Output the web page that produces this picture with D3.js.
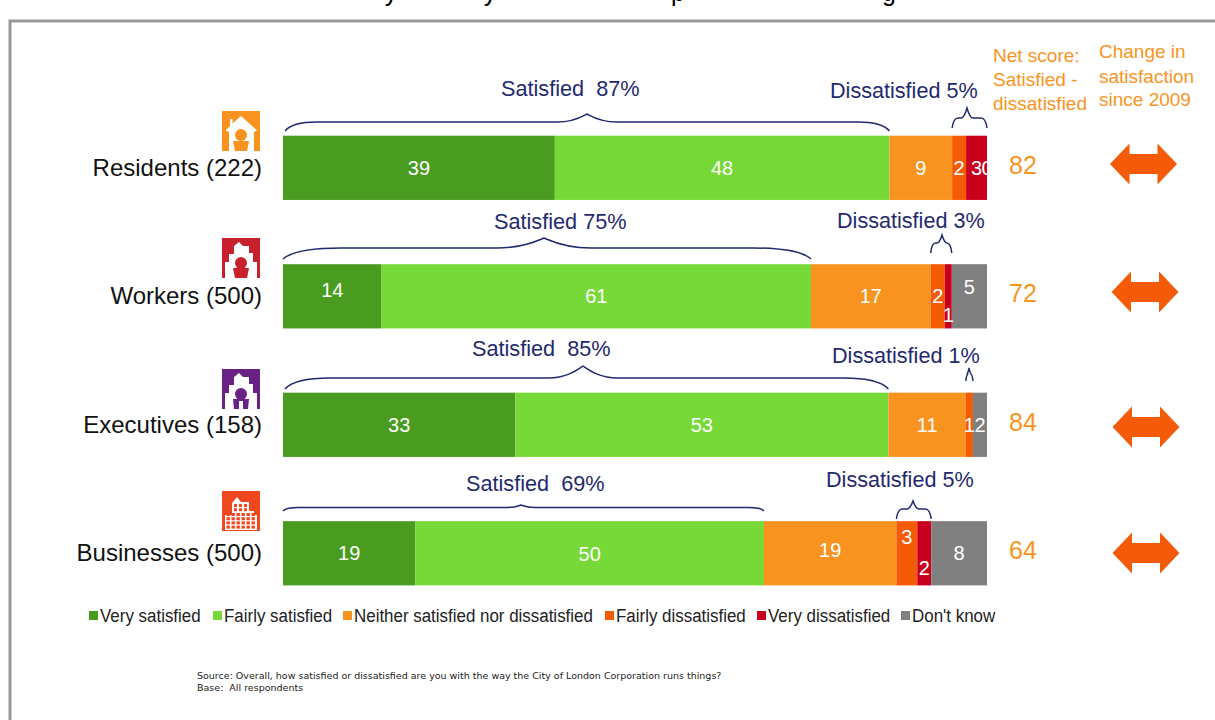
<!DOCTYPE html>
<html><head><meta charset="utf-8">
<script src="https://cdn.jsdelivr.net/npm/d3@7"></script>
<style>
html,body{margin:0;padding:0;background:#fff;overflow:hidden}
svg{display:block;font-family:"Liberation Sans",Arial,sans-serif}
text{white-space:pre}
</style></head><body>
<svg id="c" width="1215" height="720"></svg>
<script>
// ---- data ----
const categories = ["Residents (222)","Workers (500)","Executives (158)","Businesses (500)"];
const seriesNames = ["Very satisfied","Fairly satisfied","Neither satisfied nor dissatisfied","Fairly dissatisfied","Very dissatisfied","Don't know"];
const verySatisfied = [39,14,33,19];
const fairlySatisfied = [48,61,53,50];
const neither = [9,17,11,19];
const fairlyDissatisfied = [2,2,1,3];
const veryDissatisfied = [3,1,0,2];
const dontKnow = [0,5,2,8];
const netScores = [82,72,84,64];
const satisfiedLabels = ["Satisfied  87%","Satisfied 75%","Satisfied  85%","Satisfied  69%"];
const dissatisfiedLabels = ["Dissatisfied 5%","Dissatisfied 3%","Dissatisfied 1%","Dissatisfied 5%"];
const seriesValues = [verySatisfied,fairlySatisfied,neither,fairlyDissatisfied,veryDissatisfied,dontKnow];
const colors = ["#4a9c20","#77d938","#f7931e","#f55a05","#c8001e","#808080"];

// ---- layout ----
const NAVY="#1f2a6e", ORANGE="#f7941d", ARROW="#f55a08";
const svg=d3.select("#c");
const rows=categories.map((c,i)=>{const o={cat:c};seriesNames.forEach((s,j)=>o[s]=seriesValues[j][i]);return o;});
const stacked=d3.stack().keys(seriesNames).offset(d3.stackOffsetExpand)(rows);
const x=d3.scaleLinear().domain([0,1]).range([283,987]);
const y=d3.scaleBand().domain(categories).range([135.7,585.4]).paddingInner(0.5);

// cut-off title tails and frame
[["y",391],["y",490],["p",678],["g",889]].forEach(([t,px])=>svg.append("text").attr("x",px).attr("y",1).attr("text-anchor","middle").attr("font-size",25).attr("fill","#000").text(t));
svg.append("path").attr("d","M10,720V21H1215").attr("fill","none").attr("stroke","#999").attr("stroke-width",3);

// bars
svg.append("g").selectAll("g").data(stacked).join("g").attr("fill",(d,i)=>colors[i])
 .selectAll("rect").data(d=>d).join("rect")
 .attr("x",d=>x(d[0])).attr("width",d=>x(d[1])-x(d[0]))
 .attr("y",d=>y(d.data.cat)).attr("height",y.bandwidth());

// bar value labels; vertical nudges follow the hand-placed labels of the original
const nudge=[[0,0,0,0,0,0],[-6,0,0,0,19,-9],[0,0,0,0,0,0],[0,1,-3,-16,15,0]];
stacked.forEach((ser,j)=>ser.forEach((d,i)=>{
  const v=seriesValues[j][i];
  if(i===2&&j===4) return;
  const px=(i===0&&j===5)?x(1):(x(d[0])+x(d[1]))/2;
  svg.append("text").attr("x",px).attr("y",y(d.data.cat)+y.bandwidth()/2+7+nudge[i][j])
    .attr("text-anchor","middle").attr("font-size",20).attr("fill","#fff").text(v);
}));

// category labels
svg.append("g").selectAll("text").data(categories).join("text")
 .attr("x",262).attr("y",d=>y(d)+y.bandwidth()/2+8).attr("text-anchor","end").attr("font-size",24).attr("fill","#111").text(d=>d);

// net scores
svg.append("g").selectAll("text").data(netScores).join("text")
 .attr("x",1023).attr("y",(d,i)=>y(categories[i])+y.bandwidth()/2+6).attr("text-anchor","middle").attr("font-size",25).attr("fill",ORANGE).text(d=>d);

// column headers
[["Net score:",993,62],["Satisfied -",993,86],["dissatisfied",993,110],["Change in",1099,58],["satisfaction",1099,83],["since 2009",1099,106]]
 .forEach(([t,px,py])=>svg.append("text").attr("x",px).attr("y",py).attr("font-size",19).attr("fill",ORANGE).text(t));

// braces
function brace(x0,x1,b){
  const [yBase,yFlat,yTip,xTip,r,tr]=b, h=yBase-yFlat, ht=yFlat-yTip;
  return `M${x0},${yBase}C${x0+r*.15},${yFlat+h*.3} ${x0+r*.45},${yFlat} ${x0+r},${yFlat}`
    +`L${xTip-tr},${yFlat}C${xTip-tr*.45},${yFlat} ${xTip-tr*.15},${yTip+ht*.3} ${xTip},${yTip}`
    +`C${xTip+tr*.15},${yTip+ht*.3} ${xTip+tr*.45},${yFlat} ${xTip+tr},${yFlat}`
    +`L${x1-r},${yFlat}C${x1-r*.45},${yFlat} ${x1-r*.15},${yFlat+h*.3} ${x1},${yBase}`;
}
function x100(i,v){const tot=d3.sum(seriesValues,s=>s[i]);return x(v/tot);}
const satB=[[131,122,114,587,32,30],[259,248,238,544,58,47],[389,378,366,583,45,35],[511,507.5,505,521,15,14]];
const disB=[[128,118,108,967,6,6],[253,243,235,942,5,5],[381,374,368,969,2.5,2.5],[519,509,501,913,6,6]];
const satT=[[501,96],[494,229],[472,356],[466,491]];
const disT=[[830,98],[837,228],[832,363],[826,487]];
categories.forEach((c,i)=>{
  const sat=verySatisfied[i]+fairlySatisfied[i];
  svg.append("path").attr("d",brace(x100(i,0)+(i%2?0:2),x100(i,sat),satB[i])).attr("fill","none").attr("stroke",NAVY).attr("stroke-width",1.5);
  const s0=sat+neither[i], s1=s0+fairlyDissatisfied[i]+veryDissatisfied[i];
  svg.append("path").attr("d",brace(x100(i,s0),x100(i,s1),disB[i])).attr("fill","none").attr("stroke",NAVY).attr("stroke-width",1.5);
  svg.append("text").attr("x",satT[i][0]).attr("y",satT[i][1]).attr("font-size",21.7).attr("fill",NAVY).text(satisfiedLabels[i]);
  svg.append("text").attr("x",disT[i][0]).attr("y",disT[i][1]).attr("font-size",21.6).attr("fill",NAVY).text(dissatisfiedLabels[i]);
});

// change arrows
[[1143.5,164],[1145,292],[1146,427],[1146,553]].forEach(([cx,cy])=>{
  svg.append("path").attr("transform",`translate(${cx},${cy})`).attr("fill",ARROW)
   .attr("d","M-33.5,0L-14,-20.5V-10H14V-20.5L33.5,0L14,20.5V10H-14V20.5Z");
});

// icons
function icon(px,py,bg,kind){
  const g=svg.append("g").attr("transform",`translate(${px},${py})`);
  g.append("rect").attr("width",38).attr("height",40).attr("fill",bg);
  if(kind==="biz"){
    g.append("path").attr("fill","#fff").attr("d","M3,39V24H10V12L15,6L19,11H27V20H32V24H35V39Z");
    d3.range(4).forEach(r=>d3.range(6).forEach(c=>g.append("rect").attr("x",4.5+c*5).attr("y",22+r*4.2).attr("width",3.4).attr("height",3).attr("fill",bg)));
    d3.range(2).forEach(r=>d3.range(3).forEach(c=>g.append("rect").attr("x",12+c*5).attr("y",13+r*4.2).attr("width",3).attr("height",3).attr("fill",bg)));
    return;
  }
  g.append("path").attr("fill","#fff").attr("d",kind==="res"
    ? "M19,5L35,19.5L32,21V40H7V21L3.5,19.5L8,15V8H10.5V12.5Z"
    : "M3,40V24H7V16H12V8L17,4L21,8H27V15H31V24H35V40Z");
  g.append("circle").attr("cx",19).attr("cy",kind==="res"?24:25).attr("r",6).attr("fill",bg);
  g.append("path").attr("fill",bg).attr("d",kind==="exe"?"M11,30H27L26,40H21V32H17V40H12Z":"M11,30H27L25,40H13Z");
}
icon(222,111,"#f7931e","res");
icon(222,238,"#c8202d","wor");
icon(222,369,"#6a2186","exe");
icon(222,491,"#f0471f","biz");

// legend
const legendX=[89,213,343,605,757,901];
seriesNames.forEach((s,i)=>{
  svg.append("rect").attr("x",legendX[i]).attr("y",611).attr("width",9).attr("height",9).attr("fill",colors[i]);
  const t=svg.append("text").attr("x",legendX[i]+11).attr("y",622).attr("font-size",18).attr("fill","#222").text(s);
  t.attr("textLength",t.node().getComputedTextLength()*0.94).attr("lengthAdjust","spacingAndGlyphs");
});

// source
svg.append("text").attr("x",197).attr("y",679).attr("font-family","'DejaVu Sans'").attr("font-size",9.5).attr("fill","#222")
  .text("Source: Overall, how satisfied or dissatisfied are you with the way the City of London Corporation runs things?");
svg.append("text").attr("x",197).attr("y",691).attr("font-family","'DejaVu Sans'").attr("font-size",9.5).attr("fill","#222")
  .text("Base:  All respondents");
</script></body></html>
